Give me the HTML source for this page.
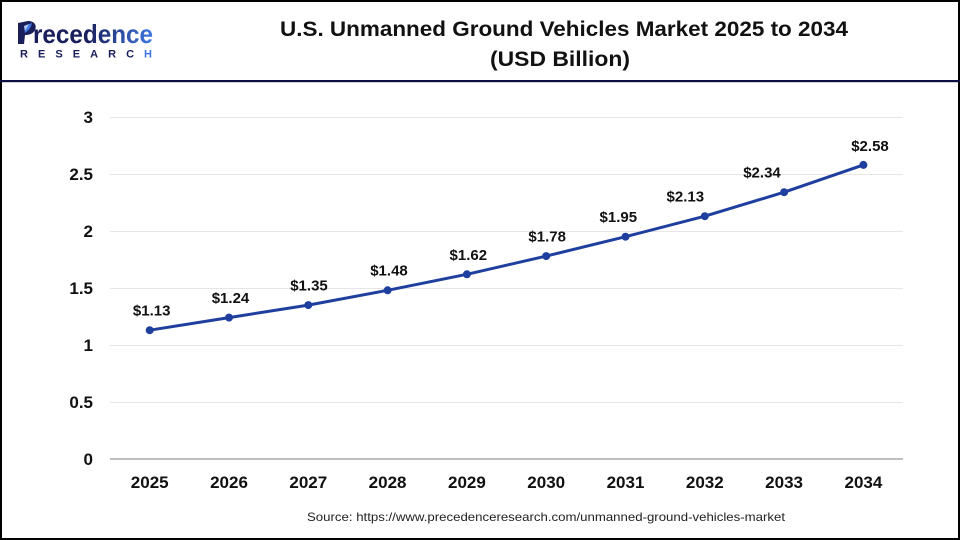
<!DOCTYPE html>
<html>
<head>
<meta charset="utf-8">
<style>
html,body{margin:0;padding:0;background:#fff;}
svg{display:block;}
text{font-family:"Liberation Sans",Arial,sans-serif;}
</style>
</head>
<body>
<svg width="960" height="540" viewBox="0 0 960 540" xmlns="http://www.w3.org/2000/svg">
  <rect x="0" y="0" width="960" height="540" fill="#fff"/>
  <!-- frame -->
  <rect x="1" y="1" width="958" height="538" fill="none" stroke="#000" stroke-width="2"/>
  <!-- header divider -->
  <rect x="0" y="80" width="960" height="2.2" fill="#0d1040"/>

  <!-- logo -->
  <defs>
    <linearGradient id="lg" x1="0" x2="1" y1="0" y2="0">
      <stop offset="0" stop-color="#1a1f5c"/>
      <stop offset="0.45" stop-color="#1a1f5c"/>
      <stop offset="1" stop-color="#3f78e0"/>
    </linearGradient>
  </defs>
  <!-- P stem + bowl -->
  <path d="M18 23 L28 21 C35 21 37 26 35 30 C33 34 29 35 25 35 L24 44 L18 44 Z" fill="#1a1f5c"/>
  <path d="M24 26 L32 23 C31 28 28 31 25 33 Z" fill="#3f78e0"/>
  <path d="M24 26 L29 24 L25 31 Z" fill="#fff" opacity="0.6"/>
  <text x="33" y="43" font-size="26" font-weight="bold" fill="url(#lg)" textLength="120" lengthAdjust="spacingAndGlyphs">recedence</text>
  <text x="20" y="57.5" font-size="11" font-weight="bold" fill="#1a1f5c" textLength="132" lengthAdjust="spacing">RESEARC<tspan fill="#3f78e0">H</tspan></text>

  <!-- title -->
  <text x="564" y="36" font-size="21" font-weight="bold" fill="#111" text-anchor="middle" textLength="568" lengthAdjust="spacingAndGlyphs">U.S. Unmanned Ground Vehicles Market 2025 to 2034</text>
  <text x="560" y="66" font-size="21" font-weight="bold" fill="#111" text-anchor="middle" textLength="140" lengthAdjust="spacingAndGlyphs">(USD Billion)</text>

  <!-- gridlines -->
  <g stroke="#e6e6e6" stroke-width="1">
    <line x1="110" x2="903" y1="117.5" y2="117.5"/>
    <line x1="110" x2="903" y1="174.5" y2="174.5"/>
    <line x1="110" x2="903" y1="231.5" y2="231.5"/>
    <line x1="110" x2="903" y1="288.5" y2="288.5"/>
    <line x1="110" x2="903" y1="345.5" y2="345.5"/>
    <line x1="110" x2="903" y1="402.5" y2="402.5"/>
  </g>
  <line x1="110" x2="903" y1="459" y2="459" stroke="#bfbfbf" stroke-width="2"/>

  <!-- y labels -->
  <g font-size="17" font-weight="bold" fill="#111" text-anchor="end">
    <text x="93" y="123">3</text>
    <text x="93" y="180">2.5</text>
    <text x="93" y="237">2</text>
    <text x="93" y="294">1.5</text>
    <text x="93" y="351">1</text>
    <text x="93" y="408">0.5</text>
    <text x="93" y="465">0</text>
  </g>

  <!-- x labels -->
  <g font-size="17" font-weight="bold" fill="#111" text-anchor="middle">
    <text x="149.7" y="488">2025</text>
    <text x="229" y="488">2026</text>
    <text x="308.3" y="488">2027</text>
    <text x="387.6" y="488">2028</text>
    <text x="466.9" y="488">2029</text>
    <text x="546.2" y="488">2030</text>
    <text x="625.5" y="488">2031</text>
    <text x="704.8" y="488">2032</text>
    <text x="784.1" y="488">2033</text>
    <text x="863.4" y="488">2034</text>
  </g>

  <!-- series -->
  <polyline fill="none" stroke="#1f3f9f" stroke-width="3" stroke-linejoin="round"
    points="149.7,330.2 229,317.6 308.3,305.1 387.6,290.3 466.9,274.3 546.2,256.1 625.5,236.7 704.8,216.2 784.1,192.2 863.4,164.9"/>
  <g fill="#1f3f9f">
    <circle cx="149.7" cy="330.2" r="4"/>
    <circle cx="229" cy="317.6" r="4"/>
    <circle cx="308.3" cy="305.1" r="4"/>
    <circle cx="387.6" cy="290.3" r="4"/>
    <circle cx="466.9" cy="274.3" r="4"/>
    <circle cx="546.2" cy="256.1" r="4"/>
    <circle cx="625.5" cy="236.7" r="4"/>
    <circle cx="704.8" cy="216.2" r="4"/>
    <circle cx="784.1" cy="192.2" r="4"/>
    <circle cx="863.4" cy="164.9" r="4"/>
  </g>

  <!-- data labels -->
  <g font-size="15" font-weight="bold" fill="#111" text-anchor="middle">
    <text x="151.7" y="315.5">$1.13</text>
    <text x="230.5" y="302.8">$1.24</text>
    <text x="309" y="290.3">$1.35</text>
    <text x="389" y="275.5">$1.48</text>
    <text x="468.3" y="259.8">$1.62</text>
    <text x="547.2" y="241.5">$1.78</text>
    <text x="618.3" y="221.9">$1.95</text>
    <text x="685.3" y="201.5">$2.13</text>
    <text x="762" y="177.4">$2.34</text>
    <text x="870" y="151">$2.58</text>
  </g>

  <!-- source -->
  <text x="546" y="521" font-size="12" fill="#222" text-anchor="middle" textLength="478" lengthAdjust="spacingAndGlyphs">Source: https://www.precedenceresearch.com/unmanned-ground-vehicles-market</text>
</svg>
</body>
</html>
